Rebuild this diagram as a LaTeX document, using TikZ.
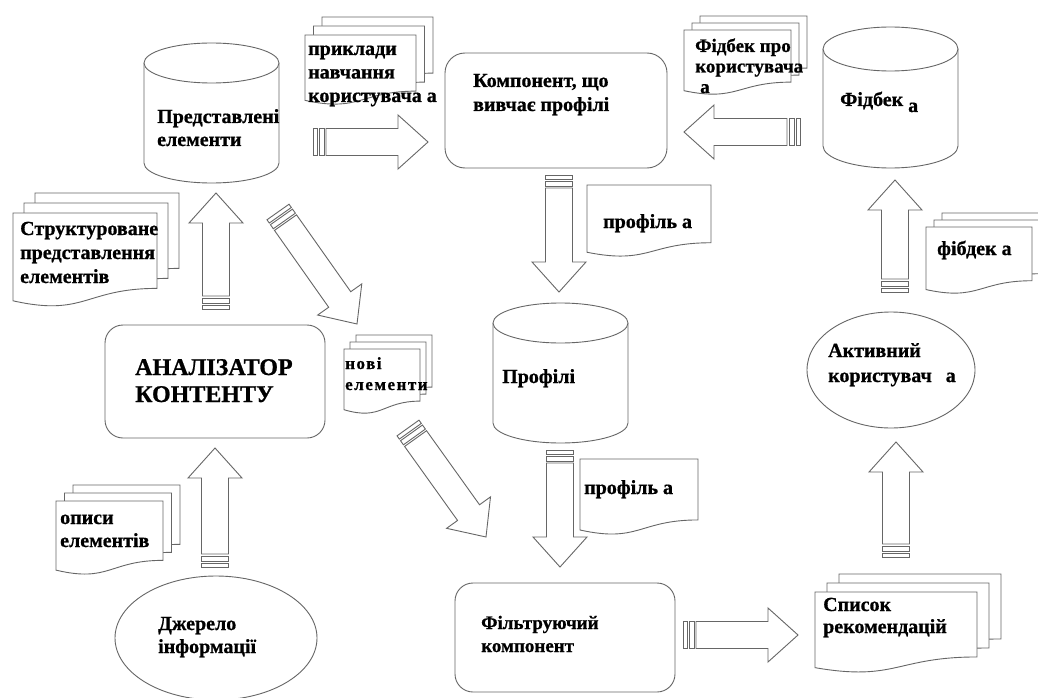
\documentclass[tikz,border=0pt]{standalone}
\usepackage{fontspec}
\setmainfont{Liberation Serif}[BoldFont={Liberation Serif Bold}, BoldFeatures={FakeBold=0.8}]
\usetikzlibrary{calc}

% several left-aligned lines whose first baseline is the node's base
\newcommand\stk[2]{\vtop{\baselineskip=#1\lineskiplimit=-30pt\lineskip=0pt\halign{##\hfil\cr#2\crcr}}}

\tikzset{
  line/.style={draw=black!60, line width=0.9pt},
  paper/.style={line, fill=white},
  lbl/.style={anchor=base west, inner sep=0pt, text=black,
              font=\bfseries\fontsize{20}{23}\selectfont},
}

% one sheet with a wavy lower edge: x, y (top left), width, height
\newcommand\docpage[4]{%
  \draw[paper] (#1,#2) -- ({#1+#3},#2) -- ({#1+#3},{#2+0.802*#4})
    .. controls ({#1+0.5*#3},{#2+0.802*#4}) and ({#1+0.5*#3},{#2+1.107*#4})
    .. (#1,{#2+0.934*#4}) -- cycle;}
% three stacked sheets: x, y, width, height, step right, step up
\newcommand\docstack[6]{%
  \docpage{#1+2*#5}{#2-2*#6}{#3}{#4}%
  \docpage{#1+#5}{#2-#6}{#3}{#4}%
  \docpage{#1}{#2}{#3}{#4}}
% database drum: left, right, top, bottom, lid radius
\newcommand\drum[5]{%
  \draw[paper] (#1,{#3+#5}) -- (#1,{#4-#5})
    arc[start angle=180, end angle=0, x radius={(#2-#1)/2}, y radius=#5]
    -- (#2,{#3+#5});
  \draw[paper] ({(#1+#2)/2},{#3+#5}) ellipse[x radius={(#2-#1)/2}, y radius=#5];}
% wide hollow arrow with a striped tail, from one coordinate to another
\newcommand\blockarrow[2]{%
  \path let \p1=($(#2)-(#1)$) in
    \pgfextra{\pgfmathparse{atan2(\y1,\x1)}\xdef\arrang{\pgfmathresult}%
              \pgfmathparse{veclen(\x1,\y1)}\xdef\arrlen{\pgfmathresult}};
  \begin{scope}[shift={(#1)}, rotate=\arrang, x=1pt, y=1pt]
    \draw[paper] (0,-13.5) rectangle (4,13.5);
    \draw[paper] (6,-13.5) rectangle (11,13.5);
    \draw[paper] (13,-13.5) -- ({\arrlen-30},-13.5) -- ({\arrlen-30},-27)
      -- (\arrlen,0) -- ({\arrlen-30},27) -- ({\arrlen-30},13.5) -- (13,13.5) -- cycle;
  \end{scope}}

\begin{document}
\begin{tikzpicture}[x=1pt, y=-1pt]
\useasboundingbox (0,0) rectangle (1038,698);
\fill[white] (0,0) rectangle (1038,698);

% stores
\drum{144}{279}{43}{183}{20}
\drum{823}{958}{27}{168}{22}
\drum{493}{628}{303}{443}{20}

% processing blocks
\draw[line, rounded corners=20pt] (445,53) rectangle (667,168);
\draw[line, rounded corners=18pt] (105,325) rectangle (325,438);
\draw[line, rounded corners=18pt] (455,583) rectangle (675,692);

% actors
\draw[paper] (891,370) ellipse[x radius=84, y radius=58];
\draw[paper] (216,638) ellipse[x radius=101, y radius=62];

% data sheets
\docstack{305}{35}{111}{70}{8.5}{9}
\docstack{684}{30}{107}{65}{8}{7}
\docpage{587}{185}{124}{72}
\docstack{926}{227}{106}{67}{8}{7}
\docstack{815}{592}{162}{81}{12}{9}
\docstack{344}{349}{76}{65}{6}{7}
\docstack{13}{213}{144}{94}{11}{10}
\docstack{56}{501}{107}{74}{8.5}{8}
\docpage{580}{459}{118}{76}

% labels
\node[lbl] (items) at (157,123) {\stk{23pt}{Представлені\cr елементи}};
\node[lbl] (train) at (308,55) {\stk{23.5pt}{приклади\cr навчання\cr користувача а}};
\node[lbl] (learner) at (473,87) {\stk{24pt}{Компонент, що\cr вивчає профілі}};
\node[lbl, font=\bfseries\fontsize{19}{21}\selectfont] (fbabout) at (695,52)
  {\stk{20.5pt}{Фідбек про\cr користувача\cr \hspace{5pt}а}};
\node[lbl] (fbstore) at (840,106) {Фідбек \raisebox{-6pt}{а}};
\node[lbl] (prof1) at (603,228) {профіль а};
\node[lbl] (fb) at (937,255) {фібдек а};
\node[lbl] (user) at (828,357) {\stk{25pt}{Активний\cr користувач\hspace{14pt}а}};
\node[lbl] (profiles) at (502,383) {Профілі};
\node[lbl] (prof2) at (584,494) {профіль а};
\node[lbl, font=\bfseries\fontsize{17}{20}\selectfont\addfontfeature{LetterSpace=9}] (new) at (345,369)
  {\stk{21pt}{нові\cr елементи}};
\node[lbl] (struct) at (20,235) {\stk{24pt}{Структуроване\cr представлення\cr елементів}};
\node[lbl, font=\bfseries\fontsize{24}{27}\selectfont] (analyzer) at (135,375)
  {\stk{27pt}{АНАЛІЗАТОР\cr КОНТЕНТУ}};
\node[lbl] (descr) at (60,524) {\stk{23pt}{описи\cr елементів}};
\node[lbl] (source) at (158,630) {\stk{23pt}{Джерело\cr інформації}};
\node[lbl, font=\bfseries\fontsize{19}{22}\selectfont] (filter) at (481,629)
  {\stk{23pt}{Фільтруючий\cr компонент}};
\node[lbl] (list) at (823,611) {\stk{22pt}{Список\cr рекомендацій}};

% arrow ends
\coordinate (itemsOut) at (313,142);   \coordinate (learnerIn) at (428,142);
\coordinate (fbOut) at (800,132);      \coordinate (learnerIn2) at (684,132);
\coordinate (learnerOut) at (559,175); \coordinate (profilesIn) at (559,292);
\coordinate (profilesOut) at (560,450);\coordinate (filterIn) at (560,567);
\coordinate (filterOut) at (683,635);  \coordinate (listIn) at (798,635);
\coordinate (listOut) at (896,557);    \coordinate (userIn) at (896,442);
\coordinate (userOut) at (895,292);    \coordinate (fbIn) at (895,180);
\coordinate (analyzerUp) at (216,309); \coordinate (itemsIn) at (216,193);
\coordinate (sourceOut) at (215,567);  \coordinate (analyzerIn) at (215,448);
\coordinate (itemsDown) at (278,212);  \coordinate (newIn) at (357,324);
\coordinate (newOut) at (408,428);     \coordinate (filterIn2) at (486,537);

% flows
\blockarrow{itemsOut}{learnerIn}
\blockarrow{fbOut}{learnerIn2}
\blockarrow{learnerOut}{profilesIn}
\blockarrow{profilesOut}{filterIn}
\blockarrow{filterOut}{listIn}
\blockarrow{listOut}{userIn}
\blockarrow{userOut}{fbIn}
\blockarrow{analyzerUp}{itemsIn}
\blockarrow{sourceOut}{analyzerIn}
\blockarrow{itemsDown}{newIn}
\blockarrow{newOut}{filterIn2}
\end{tikzpicture}
\end{document}
